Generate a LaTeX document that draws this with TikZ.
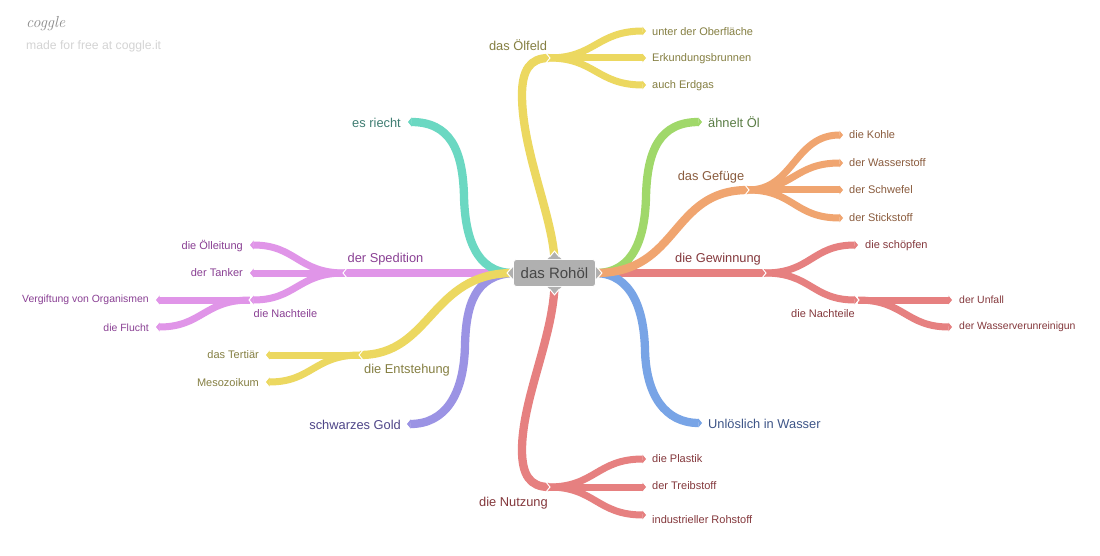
\documentclass[tikz,border=0pt]{standalone}
\usepackage{fontspec}
\setmainfont{Liberation Sans}
\newfontfamily\logofont{Latin Modern Roman}
\usetikzlibrary{arrows.meta,backgrounds,calc}
\definecolor{cteal}{HTML}{6BD8C2}\definecolor{tteal}{HTML}{3F7D72}
\definecolor{cyel}{HTML}{ECD860}\definecolor{tyel}{HTML}{857F42}
\definecolor{cgrn}{HTML}{A0D86A}\definecolor{tgrn}{HTML}{5A7D45}
\definecolor{corg}{HTML}{F0A570}\definecolor{torg}{HTML}{8A5C3E}
\definecolor{cred}{HTML}{E68080}\definecolor{tred}{HTML}{84383C}
\definecolor{cblu}{HTML}{78A4E6}\definecolor{tblu}{HTML}{3F5688}
\definecolor{cpur}{HTML}{9B93E4}\definecolor{tpur}{HTML}{4E4588}
\definecolor{cpnk}{HTML}{E095E8}\definecolor{tpnk}{HTML}{8A4094}
\tikzset{
  br/.style={line width=8.3pt,line cap=butt,draw=#1},
  sub/.style={line width=7pt,line cap=butt,draw=#1},
  tip/.style={-{Triangle[width=8.5pt,length=3.5pt]}},
  lab/.style={inner sep=0pt,yshift=-0.7pt,font=\fontsize{12.85}{15}\selectfont,text=#1},
  sml/.style={inner sep=0pt,yshift=-1pt,font=\fontsize{11}{13}\selectfont,text=#1},
  tiny/.style={inner sep=0pt,yshift=-1pt,font=\fontsize{10.45}{13}\selectfont,text=#1},
  chev/.style={draw=white,line width=1pt,line join=miter},
  hubbox/.style={fill=black!31,draw=white,line width=0.8pt,rounded corners=3pt,minimum width=82pt,minimum height=27pt,inner sep=0pt,font=\fontsize{15}{17}\selectfont,text=black!72}
}
\newcommand\chevR[1]{\draw[chev] ([xshift=-3,yshift=-5]#1) -- ([xshift=1]#1) -- ([xshift=-3,yshift=5]#1);}
\newcommand\chevL[1]{\draw[chev] ([xshift=3,yshift=-5]#1) -- ([xshift=-1]#1) -- ([xshift=3,yshift=5]#1);}
\begin{document}
\begin{tikzpicture}[x=1pt,y=-1pt]
\useasboundingbox (0,0) rectangle (1100,556);
\node[inner sep=0pt,anchor=west,font=\fontsize{16}{17}\selectfont\logofont\itshape,text=black!45] (logo) at (26,24) {coggle};
\node[sml=black!17,anchor=west,font=\fontsize{12.2}{14}\selectfont] (free) at (26,45) {made for free at coggle.it};

\node[hubbox] (hub) at (554.5,273) {das Rohöl};
\fill[black!31] ([xshift=-7]hub.north) -- ([yshift=7]hub.north) -- ([xshift=7]hub.north) -- cycle;
\fill[black!31] ([xshift=-7]hub.south) -- ([yshift=-7]hub.south) -- ([xshift=7]hub.south) -- cycle;
\fill[black!31] ([yshift=-6]hub.west) -- ([xshift=-5]hub.west) -- ([yshift=6]hub.west) -- cycle;
\fill[black!31] ([yshift=-6]hub.east) -- ([xshift=5]hub.east) -- ([yshift=6]hub.east) -- cycle;

% junction and free-end coordinates
\foreach \n/\x/\y in {eRiecht/408/122,jOel/549/58,eUnter/646/31,eErk/646/58,eErd/646/85,eAehn/702/122,
 jGef/748/190,eKoh/843/135,eWas/843/163,eSch/843/190,eSti/843/218,
 jGew/765/273,eSchoe/858/245,jNachR/858/300,eUnf/952/300,eVer/952/327,
 eUnl/702/423,jNutz/549/487,ePla/646/459,eTre/646/487,eInd/646/515,
 ePur/407/424,jEnt/360/355,eTer/266/355,eMes/266/382,
 jSped/344/273,eOell/250/245,eTank/250/273,jNachL/250/300,eGift/156/300,eFlu/156/327}
 {\coordinate (\n) at (\x,\y);}

% labels
\node[lab=tteal,anchor=east] (tRiecht) at (401,122) {es riecht};
\node[lab=tyel] (tOel) at (518,44) {das Ölfeld};
\node[sml=tyel,anchor=west] (tUnter) at (652,31) {unter der Oberfläche};
\node[sml=tyel,anchor=west] (tErk) at (652,58) {Erkundungsbrunnen};
\node[sml=tyel,anchor=west] (tErd) at (652,85) {auch Erdgas};
\node[lab=tgrn,anchor=west] (tAehn) at (708,121) {ähnelt Öl};
\node[lab=torg] (tGef) at (711,176) {das Gefüge};
\node[sml=torg,anchor=west] (tKoh) at (849,134) {die Kohle};
\node[sml=torg,anchor=west] (tWas) at (849,162) {der Wasserstoff};
\node[sml=torg,anchor=west] (tSch) at (849,189) {der Schwefel};
\node[sml=torg,anchor=west] (tSti) at (849,217) {der Stickstoff};
\node[lab=tred] (tGew) at (718,258) {die Gewinnung};
\node[sml=tred,anchor=west] (tSchoe) at (865,245) {die schöpfen};
\node[sml=tred] (tNachR) at (823,313) {die Nachteile};
\node[tiny=tred,anchor=west] (tUnf) at (959,298.5) {der Unfall};
\node[tiny=tred,anchor=west] (tVer) at (959,326) {der Wasserverunreinigun};
\node[lab=tblu,anchor=west] (tUnl) at (708,423) {Unlöslich in Wasser};
\node[lab=tred] (tNutz) at (513.5,502) {die Nutzung};
\node[sml=tred,anchor=west] (tPla) at (652,458) {die Plastik};
\node[sml=tred,anchor=west] (tTre) at (652,485) {der Treibstoff};
\node[sml=tred,anchor=west] (tInd) at (652,519) {industrieller Rohstoff};
\node[lab=tpur,anchor=east] (tGold) at (401,424) {schwarzes Gold};
\node[lab=tyel] (tEnt) at (407,369) {die Entstehung};
\node[sml=tyel,anchor=east] (tTer) at (259,354) {das Tertiär};
\node[sml=tyel,anchor=east] (tMes) at (259,382) {Mesozoikum};
\node[lab=tpnk] (tSped) at (385.5,258) {der Spedition};
\node[sml=tpnk,anchor=east] (tOell) at (243,245) {die Ölleitung};
\node[sml=tpnk,anchor=east] (tTank) at (243,272) {der Tanker};
\node[sml=tpnk] (tNachL) at (285.5,313) {die Nachteile};
\node[tiny=tpnk,anchor=east] (tGift) at (149,299) {Vergiftung von Organismen};
\node[tiny=tpnk,anchor=east] (tFlu) at (149,327) {die Flucht};

\begin{pgfonlayer}{background}
\fill[white] (0,0) rectangle (1100,556);
% left side main branches
\draw[br=cpnk] (hub.west) -- (jSped);
\draw[br=cteal,tip] (hub.west) .. controls (475,273) and (465,235) .. (464,197) .. controls (463,150) and (450,122) .. (eRiecht);
\draw[br=cpur,tip] (hub.west) .. controls (475,275) and (466,305) .. (465,345) .. controls (464,395) and (445,424) .. (ePur);
\draw[br=cyel] (hub.west) .. controls (430,273) and (432,355) .. (jEnt);
% top / bottom
\draw[br=cyel] (hub.north) .. controls (552,215) and (522,150) .. (522,95) .. controls (522,70) and (530,58) .. (jOel);
\draw[br=cred] (hub.south) .. controls (552,340) and (522,400) .. (522,450) .. controls (522,475) and (530,487) .. (jNutz);
% right side
\draw[br=cred] (hub.east) -- (jGew);
\draw[br=cblu,tip] (hub.east) .. controls (632,274) and (644,310) .. (645,350) .. controls (646,395) and (665,423) .. (eUnl);
\draw[br=cgrn,tip] (hub.east) .. controls (635,273) and (645,235) .. (646,197) .. controls (647,150) and (660,122) .. (eAehn);
\draw[br=corg] (hub.east) .. controls (680,273) and (670,190) .. (jGef);
% Oelfeld children
\foreach \e in {eUnter,eErd,eErk} \draw[sub=cyel,tip] (jOel) .. controls ($(jOel)+(46,0)$) and ($(\e)+(-49,0)$) .. (\e);
% Gefuege children
\foreach \e in {eKoh,eWas,eSti,eSch} \draw[sub=corg,tip] (jGef) .. controls ($(jGef)+(46,0)$) and ($(\e)+(-49,0)$) .. (\e);
% Gewinnung children
\foreach \e in {eSchoe,jNachR} \draw[sub=cred,tip] (jGew) .. controls ($(jGew)+(46,0)$) and ($(\e)+(-46,0)$) .. (\e);
\foreach \e in {eUnf,eVer} \draw[sub=cred,tip] (jNachR) .. controls ($(jNachR)+(46,0)$) and ($(\e)+(-46,0)$) .. (\e);
% Nutzung children
\foreach \e in {ePla,eInd,eTre} \draw[sub=cred,tip] (jNutz) .. controls ($(jNutz)+(46,0)$) and ($(\e)+(-49,0)$) .. (\e);
% Entstehung children
\foreach \e in {eTer,eMes} \draw[sub=cyel,tip] (jEnt) .. controls ($(jEnt)+(-46,0)$) and ($(\e)+(46,0)$) .. (\e);
% Spedition children
\foreach \e in {eOell,eTank,jNachL} \draw[sub=cpnk,tip] (jSped) .. controls ($(jSped)+(-46,0)$) and ($(\e)+(46,0)$) .. (\e);
\foreach \e in {eGift,eFlu} \draw[sub=cpnk,tip] (jNachL) .. controls ($(jNachL)+(-46,0)$) and ($(\e)+(46,0)$) .. (\e);
\end{pgfonlayer}

% white notches
\chevR{jOel}\chevR{jGef}\chevR{jGew}\chevR{jNachR}\chevR{jNutz}
\chevL{jEnt}\chevL{jSped}\chevL{jNachL}
\draw[chev] ([xshift=-5,yshift=2]hub.north) -- ([yshift=8]hub.north) -- ([xshift=5,yshift=2]hub.north);
\draw[chev] ([xshift=-5,yshift=-2]hub.south) -- ([yshift=-8]hub.south) -- ([xshift=5,yshift=-2]hub.south);
\draw[chev] ([yshift=-6,xshift=-1]hub.west) -- ([xshift=-6]hub.west) -- ([yshift=6,xshift=-1]hub.west);
\draw[chev] ([yshift=-6,xshift=1]hub.east) -- ([xshift=6]hub.east) -- ([yshift=6,xshift=1]hub.east);
\end{tikzpicture}
\end{document}
